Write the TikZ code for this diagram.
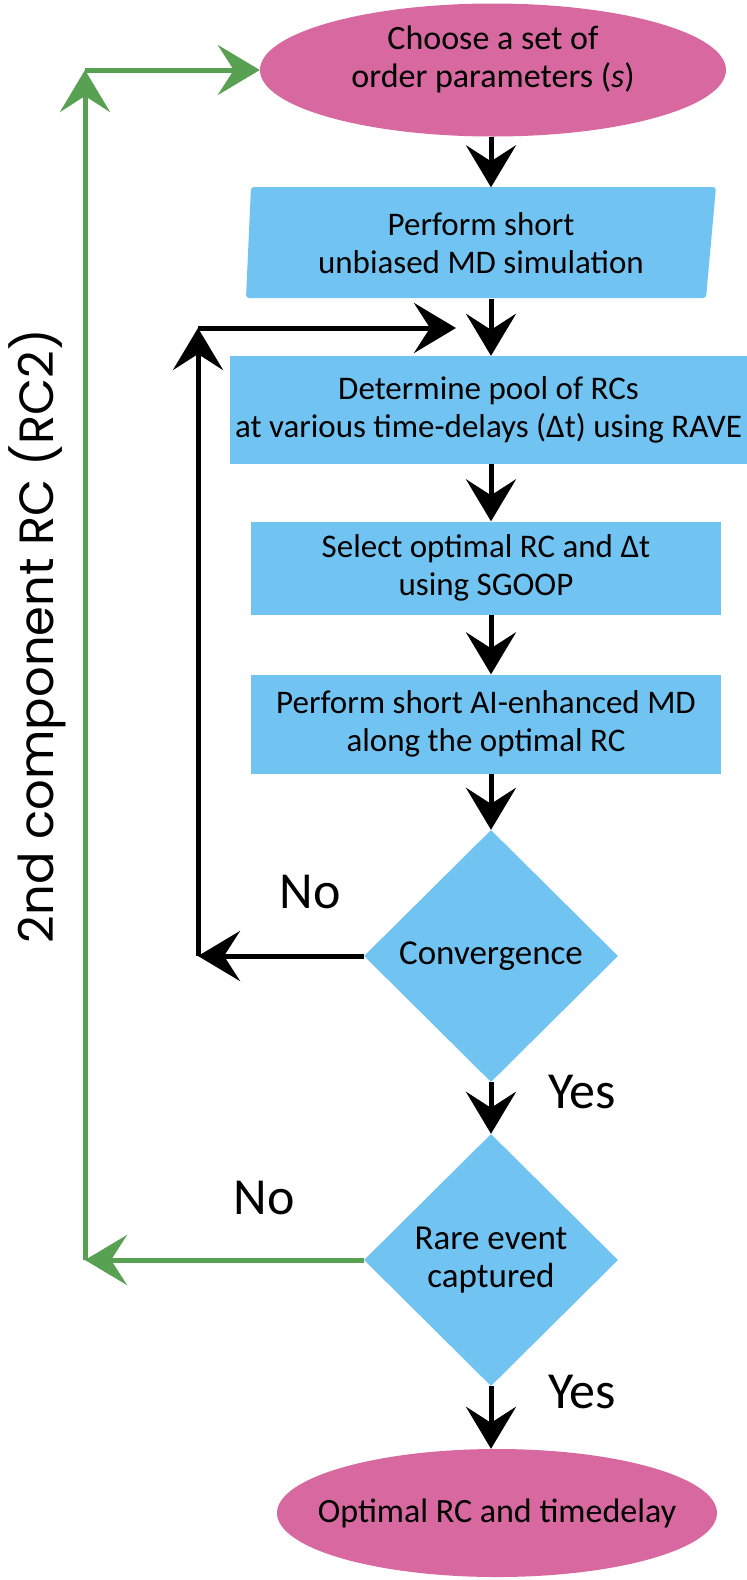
\documentclass[tikz,border=0pt]{standalone}
\usepackage{fontspec}
\setmainfont{Carlito}
\newfontfamily\sidefont{Poppins}
\usetikzlibrary{shapes.geometric, arrows.meta, positioning, backgrounds}
\definecolor{boxblue}{RGB}{113,196,242}
\definecolor{cappink}{RGB}{216,105,160}
\definecolor{loopgreen}{RGB}{88,160,82}

\tikzset{
  stepbox/.style={rectangle, fill=boxblue, align=center, inner sep=0pt,
    font=\fontsize{33}{38}\selectfont},
  endcap/.style={ellipse, fill=cappink, align=center, inner sep=0pt,
    font=\fontsize{34}{38}\selectfont},
  check/.style={diamond, fill=boxblue, align=center, inner sep=0pt,
    minimum width=254pt, minimum height=252pt,
    font=\fontsize{35}{38}\selectfont},
  answer/.style={font=\fontsize{52}{56}\selectfont},
  flow/.style={line width=5pt, -{Stealth[length=42pt,width=50pt,inset=16pt]}},
  loopback/.style={flow, draw=loopgreen}
}

\begin{document}
\begin{tikzpicture}[x=1pt, y=-1pt]
  \useasboundingbox (0,0) rectangle (747,1580);

  %% Start and end
  \node[endcap, text depth=26pt, minimum width=466pt, minimum height=133pt] (choose) at (493,70)
    {Choose a set of\\order parameters (\textit{s})};
  \node[endcap, inner xsep=-40pt, minimum width=440pt, minimum height=128pt] (optimal) at (497,1513)
    {Optimal RC and timedelay};

  %% Steps
  \node[stepbox, fill=none, minimum width=468pt, minimum height=111pt] (perform) at (481,243)
    {Perform short\\unbiased MD simulation};
  \node[stepbox, minimum width=517pt, minimum height=108pt] (pool) at (488.5,410)
    {Determine pool of RCs\\at various time-delays (Δt) using RAVE};
  \node[stepbox, minimum width=470pt, minimum height=93pt] (select) at (486,568)
    {Select optimal RC and Δt\\using SGOOP};
  \node[stepbox, minimum width=470pt, minimum height=99pt] (enhanced) at (486,724)
    {Perform short AI-enhanced MD\\along the optimal RC};

  %% Tilted box behind the first step
  \begin{scope}[on background layer]
    \fill[boxblue, rounded corners=3pt] (251,187) -- (716,187) -- (706,298)
      -- (246,298) -- cycle;
  \end{scope}

  %% Decisions
  \node[check] (conv) at (491,956) {Convergence};
  \node[check] (rare) at (491,1260) {Rare event\\captured};

  %% Main line
  \draw[flow] (choose.south -| conv) -- (perform.north -| conv);
  \draw[flow] (perform.south -| conv) -- (pool.north -| conv);
  \draw[flow] (pool.south -| conv) -- (select.north -| conv);
  \draw[flow] (select.south -| conv) -- (enhanced.north -| conv);
  \draw[flow] (enhanced.south -| conv) -- (conv.north);
  \draw[flow] (conv.south) -- (rare.north);
  \draw[flow] (rare.south) -- (optimal.north -| rare);

  %% Inner loop
  \coordinate (innerlow) at (198,956);
  \coordinate (innertop) at (198,328);
  \coordinate (innerend) at (456,328);
  \draw[flow] (conv.west) -- (innerlow);
  \draw[flow] (innerlow) -- (innertop);
  \draw[flow] (innertop) -- (innerend);

  %% Outer loop
  \coordinate (outerlow) at (85,1260);
  \coordinate (outertop) at (85,70);
  \draw[loopback] (rare.west) -- (outerlow);
  \draw[loopback] (outerlow) -- (outertop);
  \draw[loopback] (outertop) -- (choose.west);

  %% Labels
  \node[answer] (noinner) at (310,892) {No};
  \node[answer] (yesconv) at (582,1092) {Yes};
  \node[answer] (noouter) at (264,1198) {No};
  \node[answer] (yesrare) at (582,1392) {Yes};
  \node[font=\sidefont\fontsize{48}{52}\selectfont, rotate=90] (rctwo) at (37,636)
    {2nd component RC (RC2)};
\end{tikzpicture}
\end{document}
